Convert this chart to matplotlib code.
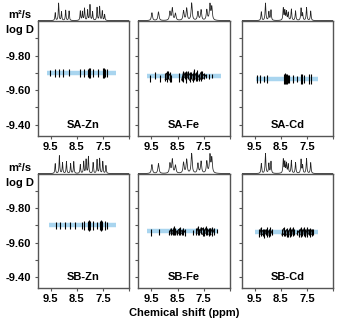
import matplotlib
matplotlib.use("Agg")
import matplotlib.pyplot as plt
import numpy as np

plt.rcParams["font.family"] = ["Liberation Sans", "DejaVu Sans"]
plt.rcParams["font.weight"] = "bold"

# panel names (row-major)
NAMES = ["SA-Zn", "SA-Fe", "SA-Cd", "SB-Zn", "SB-Fe", "SB-Cd"]

# diffusion coefficient of each species (log D) and ppm span of the fit band
LOGD = [-9.70, -9.68, -9.665, -9.70, -9.665, -9.66]
BAND_FROM = [9.63, 9.67, 9.47, 9.57, 9.67, 9.50]
BAND_TO = [7.02, 6.85, 7.10, 7.02, 6.97, 7.10]

# 1D projection peaks: positions (ppm) and relative heights
SPEC_PPM = [
    [9.33, 9.20, 9.09, 8.93, 8.80, 8.37, 8.29, 8.21, 8.09, 8.00, 7.90, 7.73, 7.63, 7.53, 7.44],
    [9.48, 9.23, 8.79, 8.70, 8.58, 8.27, 8.15, 7.96, 7.72, 7.60, 7.38, 7.26, 7.19],
    [9.25, 9.09, 8.96, 8.88, 8.41, 8.35, 8.29, 8.22, 8.10, 7.94, 7.73, 7.67, 7.52, 7.36],
    [9.33, 9.17, 9.05, 8.90, 8.74, 8.62, 8.37, 8.24, 8.15, 8.06, 7.88, 7.73, 7.63, 7.51, 7.39],
    [9.48, 9.23, 8.79, 8.70, 8.58, 8.27, 8.15, 7.96, 7.72, 7.60, 7.38, 7.26, 7.19],
    [9.25, 9.09, 8.96, 8.88, 8.41, 8.35, 8.29, 8.22, 8.10, 7.94, 7.73, 7.67, 7.52, 7.36],
]
SPEC_H = [
    [0.45, 1.00, 0.50, 0.60, 0.55, 0.55, 0.50, 0.70, 0.60, 0.90, 0.50, 0.75, 0.80, 0.55, 0.35],
    [0.45, 0.50, 0.50, 0.70, 0.40, 0.55, 0.70, 1.00, 0.50, 0.60, 0.60, 0.90, 0.75],
    [0.50, 1.00, 0.50, 0.60, 0.70, 0.55, 0.50, 0.45, 0.65, 0.55, 0.70, 0.40, 0.75, 0.55],
    [0.50, 0.90, 0.55, 0.60, 0.50, 0.60, 0.45, 0.60, 0.70, 0.85, 0.55, 0.70, 0.75, 0.60, 0.40],
    [0.45, 0.50, 0.50, 0.70, 0.40, 0.55, 0.70, 1.00, 0.50, 0.60, 0.60, 0.90, 0.75],
    [0.50, 1.00, 0.50, 0.60, 0.70, 0.55, 0.50, 0.45, 0.65, 0.55, 0.70, 0.40, 0.75, 0.55],
]
SPEC_WIDTH = [0.015, 0.025, 0.017, 0.015, 0.025, 0.017]

# DOSY cross peaks: position (ppm), half-height and offset (log D units)
CP_PPM = [
    [9.51, 9.33, 9.20, 9.05, 8.80, 8.37, 8.21, 8.09, 8.02, 7.98, 7.90, 7.69, 7.51, 7.47, 7.42, 7.35],
    [9.57, 9.38, 9.17, 8.97, 8.92, 8.86, 8.80, 8.76, 8.46, 8.34, 8.28, 8.22, 8.16, 8.10, 8.04,
     7.98, 7.92, 7.86, 7.80, 7.74, 7.68, 7.62, 7.56, 7.50, 7.42, 7.30, 7.20],
    [9.42, 9.30, 9.16, 9.05, 8.40, 8.36, 8.32, 8.28, 8.24, 8.20, 8.02, 7.90, 7.73, 7.68, 7.63, 7.41, 7.33],
    [9.30, 9.14, 8.97, 8.77, 8.56, 8.31, 8.21, 8.08, 8.04, 7.98, 7.87, 7.75, 7.63, 7.58, 7.53, 7.44, 7.36],
    [9.51, 9.22, 8.81, 8.75, 8.69, 8.64, 8.58, 8.52, 8.46, 8.40, 8.34, 8.28, 8.21, 7.90, 7.78,
     7.72, 7.66, 7.60, 7.54, 7.48, 7.42, 7.36, 7.30, 7.24, 7.18, 7.10, 7.00],
    [9.32, 9.26, 9.20, 9.14, 9.08, 9.02, 8.96, 8.90, 8.83, 8.46, 8.40, 8.34, 8.28, 8.22, 8.16,
     8.10, 8.04, 7.98, 7.88, 7.80, 7.74, 7.68, 7.62, 7.56, 7.50, 7.44, 7.38, 7.32, 7.26],
]
CP_HALF = [
    [0.018, 0.022, 0.025, 0.022, 0.020, 0.022, 0.025, 0.025, 0.030, 0.030, 0.025, 0.022, 0.028, 0.028, 0.025, 0.025],
    [0.020, 0.018, 0.020, 0.022, 0.030, 0.025, 0.028, 0.020, 0.025, 0.015, 0.030, 0.022, 0.035, 0.025, 0.030,
     0.020, 0.028, 0.032, 0.025, 0.030, 0.020, 0.030, 0.022, 0.018, 0.012, 0.015, 0.012],
    [0.022, 0.025, 0.020, 0.025, 0.028, 0.032, 0.030, 0.028, 0.025, 0.022, 0.025, 0.018, 0.028, 0.030, 0.025, 0.030, 0.028],
    [0.020, 0.020, 0.018, 0.020, 0.018, 0.022, 0.025, 0.028, 0.030, 0.028, 0.025, 0.022, 0.028, 0.030, 0.025, 0.028, 0.020],
    [0.020, 0.018, 0.015, 0.022, 0.018, 0.025, 0.020, 0.015, 0.018, 0.022, 0.015, 0.020, 0.018, 0.012, 0.020,
     0.025, 0.018, 0.022, 0.028, 0.020, 0.025, 0.018, 0.022, 0.020, 0.025, 0.018, 0.012],
    [0.022, 0.028, 0.020, 0.025, 0.018, 0.028, 0.022, 0.025, 0.018, 0.022, 0.028, 0.020, 0.025, 0.022, 0.028,
     0.020, 0.025, 0.018, 0.015, 0.022, 0.028, 0.020, 0.025, 0.022, 0.028, 0.020, 0.025, 0.022, 0.018],
]
CP_OFF = [
    [0.0] * 16,
    [0.010, -0.005, 0.012, 0.005, 0.000, -0.008, 0.004, 0.010, 0.008, 0.012, 0.000, -0.006, 0.002, -0.008, 0.004,
     -0.004, 0.006, -0.010, 0.000, -0.006, 0.006, -0.002, -0.008, 0.000, 0.000, 0.000, 0.000],
    [0.0] * 17,
    [0.0] * 17,
    [0.008, 0.005, 0.006, 0.000, 0.004, -0.004, 0.002, 0.006, 0.000, -0.004, 0.004, 0.000, 0.006, 0.006, 0.000,
     -0.004, 0.002, -0.006, 0.000, 0.004, -0.004, 0.000, 0.004, -0.002, 0.002, 0.000, 0.000],
    [0.004, -0.004, 0.002, 0.006, -0.002, 0.000, 0.004, -0.004, 0.000, 0.002, -0.004, 0.004, 0.000, 0.006, -0.002,
     0.002, -0.004, 0.000, 0.000, 0.004, -0.002, 0.002, -0.004, 0.004, 0.000, -0.002, 0.002, 0.000, 0.000],
]
WIGGLY = [False, True, False, False, True, True]

X_TICKS = [9.5, 8.5, 7.5, 6.5]
X_LABELS = ["9.5", "8.5", "7.5", ""]
Y_TICKS = [-9.8, -9.6, -9.4]
Y_MINOR = [-9.9, -9.7, -9.5]

BLUE = "#a9d5ef"
FRAME = "#555555"

fig = plt.figure(figsize=(3.47, 3.22), dpi=100)

lefts = [0.1086, 0.3986, 0.6965]
width = 0.2637
rows = [(0.5776, 0.357, 0.9348, 0.063), (0.1056, 0.354, 0.4596, 0.072)]

for i, name in enumerate(NAMES):
    r, c = divmod(i, 3)
    bot, h, sbot, sh = rows[r]
    ax = fig.add_axes([lefts[c], bot, width, h])
    sax = fig.add_axes([lefts[c], sbot, width, sh])

    # 1D projection on top
    grid = np.linspace(10.0, 6.5, 1200)
    spec = np.zeros_like(grid)
    w = SPEC_WIDTH[i]
    for p, a in zip(SPEC_PPM[i], SPEC_H[i]):
        spec += a * w**2 / ((grid - p)**2 + w**2)
    sax.plot(grid, spec, color="#222222", lw=0.55)
    sax.set_xlim(10.0, 6.5)
    sax.set_ylim(-0.02, 1.15)
    sax.axis("off")

    # fit band + cross peaks
    ax.plot([BAND_FROM[i], BAND_TO[i]], [LOGD[i], LOGD[i]], color=BLUE, lw=3.2,
            solid_capstyle="butt", zorder=1)
    ys = np.array(LOGD[i]) + np.array(CP_OFF[i])
    hh = np.array(CP_HALF[i])
    ax.vlines(CP_PPM[i], ys - hh, ys + hh, color="black", lw=0.8, zorder=2)
    if WIGGLY[i]:
        # connect neighbouring peaks into the jagged traces
        px = np.array(CP_PPM[i])
        for k in range(len(px) - 1):
            if px[k] - px[k + 1] < 0.09:
                ax.plot([px[k], px[k + 1]], [ys[k] + hh[k] * 0.6, ys[k + 1] - hh[k + 1] * 0.6],
                        color="black", lw=0.7, zorder=2)

    ax.set_xlim(10.0, 6.5)
    ax.set_ylim(-9.335, -10.0)
    ax.set_xticks(X_TICKS)
    ax.set_xticklabels(X_LABELS)
    ax.set_yticks(Y_TICKS)
    ax.set_yticks(Y_MINOR, minor=True)
    if c == 0:
        ax.set_yticklabels([f"{t:.2f}" for t in Y_TICKS])
    else:
        ax.set_yticklabels([])
    ax.tick_params(which="both", direction="out", length=2.5, width=0.8, color=FRAME,
                   labelsize=8, pad=2)
    for s in ax.spines.values():
        s.set_color(FRAME)
        s.set_linewidth(1.0)
    ax.text(0.5, 0.1, name, transform=ax.transAxes, ha="center", va="center",
            fontsize=8, fontweight="bold")

# unit labels on the left
for ytop in (15, 168):
    fig.text(0.058, 1 - ytop / 322, "m²/s", ha="center", va="center", fontsize=8, fontweight="bold")
    fig.text(0.058, 1 - (ytop + 15) / 322, "log D", ha="center", va="center", fontsize=8,
             fontweight="bold")

fig.text(0.53, 1 - 313 / 322, "Chemical shift (ppm)", ha="center", va="center",
         fontsize=8, fontweight="bold")

fig.savefig("out.png", dpi=100, facecolor="white")
